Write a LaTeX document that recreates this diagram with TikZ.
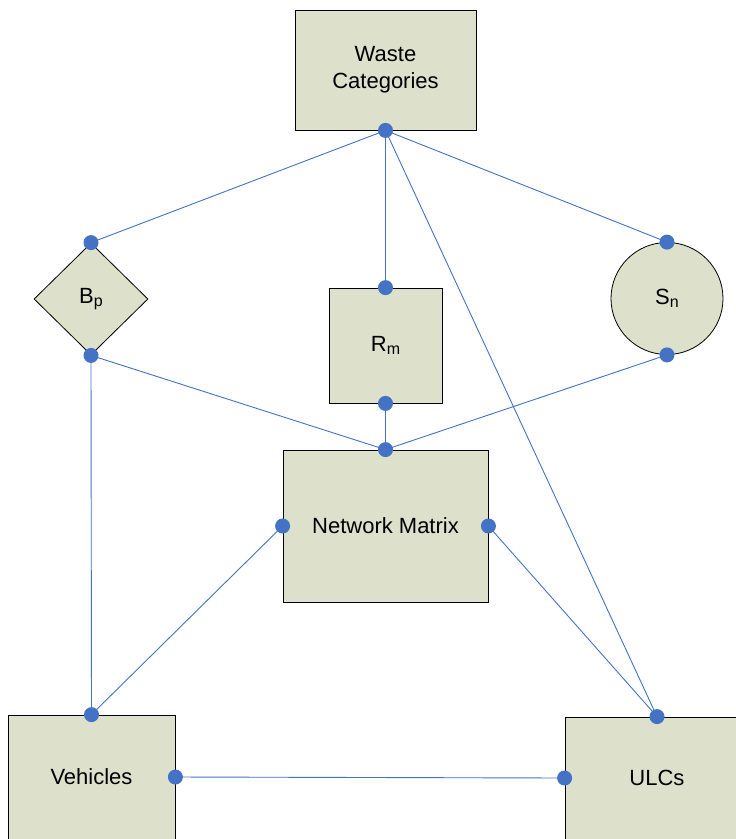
\documentclass[tikz,border=0pt]{standalone}
\usepackage{fontspec}
\setmainfont{Liberation Sans}
\usetikzlibrary{shapes.geometric}
\definecolor{boxfill}{RGB}{221,224,203}
\definecolor{dotblue}{RGB}{68,114,196}
\newcommand{\lowsub}[1]{\raisebox{-0.3ex}{\fontsize{16}{18}\selectfont #1}}
\begin{document}
\begin{tikzpicture}[x=1pt,y=-1pt,
  box/.style={draw=black, fill=boxfill, line width=0.8pt, inner sep=0pt,
    font=\fontsize{22}{27}\selectfont, align=center},
  link/.style={draw=dotblue, line width=0.9pt},
  dot/.style={circle, fill=dotblue, inner sep=0pt, minimum size=15pt}]
\useasboundingbox (0,0) rectangle (736,839);
\clip (0,0) rectangle (736,839);
\fill[white] (0,0) rectangle (736,839);
% nodes
\node[box, minimum width=181pt, minimum height=120pt] (wc) at (385.5,70) {Waste\\Categories};
\node[box, diamond, minimum width=114pt, minimum height=112pt] (bp) at (91,299) {B\lowsub{p}};
\node[box, minimum width=113pt, minimum height=115pt] (rm) at (385.5,345.5) {R\lowsub{m}};
\node[box, circle, minimum size=112pt] (sn) at (667,298.5) {S\lowsub{n}};
\node[box, minimum width=205pt, minimum height=152pt] (nm) at (385.5,526) {Network Matrix};
\node[box, minimum width=167pt, minimum height=124pt] (veh) at (91.5,777) {Vehicles};
\node[box, minimum width=184pt, minimum height=122pt] (ulc) at (657,778) {ULCs};
% connectors
\draw[link] (wc.south) -- (bp.north);
\draw[link] (wc.south) -- (rm.north);
\draw[link] (wc.south) -- (sn.north);
\draw[link] (wc.south) -- (ulc.north);
\draw[link] (bp.south) -- (nm.north);
\draw[link] (bp.south) -- (veh.north);
\draw[link] (rm.south) -- (nm.north);
\draw[link] (sn.south) -- (nm.north);
\draw[link] (nm.west) -- (veh.north);
\draw[link] (nm.east) -- (ulc.north);
\draw[link] (veh.east) -- (ulc.west);
% dots
\foreach \a in {wc.south, bp.north, bp.south, rm.north, rm.south, sn.north, sn.south,
  nm.north, nm.west, nm.east, veh.north, veh.east, ulc.north, ulc.west}
  \node[dot] at (\a) {};
\end{tikzpicture}
\end{document}
